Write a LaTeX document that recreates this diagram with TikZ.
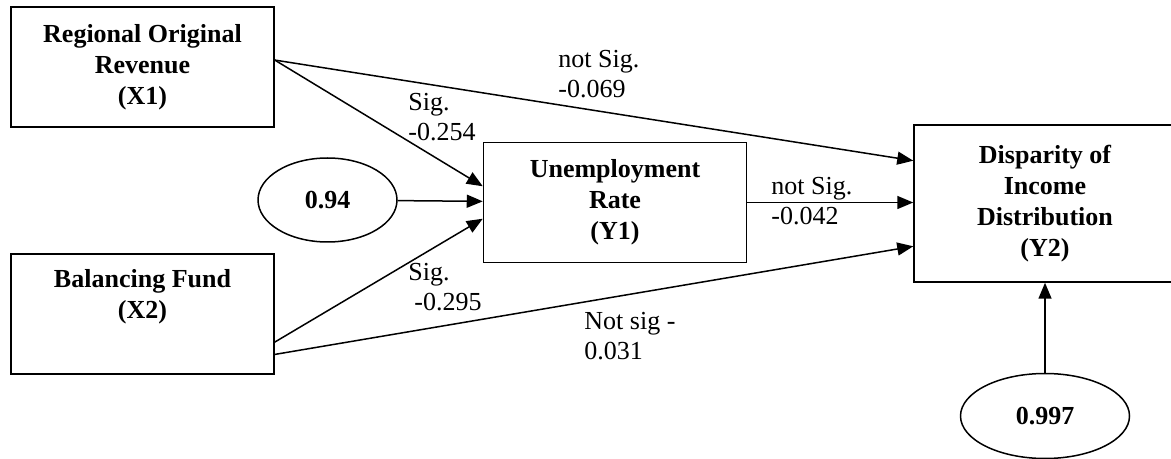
\documentclass[tikz,border=0pt]{standalone}
\usepackage{fontspec}
\setmainfont{Liberation Serif}
\usetikzlibrary{arrows.meta,shapes.geometric}

\begin{document}
\begin{tikzpicture}[
    x=0.5pt, y=-0.5pt,
    box/.style={draw, line width=0.75pt, minimum width=131.5pt, minimum height=60pt,
                font=\fontsize{13}{15.5}\selectfont\bfseries, align=center, inner sep=2pt},
    err/.style={draw, ellipse, line width=0.75pt, inner sep=0pt,
                font=\fontsize{13}{15.5}\selectfont\bfseries},
    lbl/.style={anchor=west, align=left, inner sep=0pt, font=\fontsize{13}{15}\selectfont},
    arr/.style={-{Triangle[length=8pt,width=6.5pt]}, line width=0.75pt}
  ]
    \useasboundingbox (0,0) rectangle (1171,459);

    % exogenous variables
    \node[box] (X1) at (142.5,67) {Regional Original\\Revenue\\(X1)};
    \node[box] (X2) at (142.5,314) {Balancing Fund\\(X2)\\\strut};

    % endogenous variables
    \node[box] (Y1) at (615,202.5) {Unemployment\\Rate\\(Y1)};
    \node[box, minimum width=131pt, minimum height=78.5pt] (Y2) at (1045,203.5)
        {Disparity of\\Income\\Distribution\\(Y2)};

    % residuals
    \node[err, minimum width=69.5pt, minimum height=42pt] (e1) at (327.5,200) {0.94};
    \node[err, minimum width=84.5pt, minimum height=42.5pt] (e2) at (1045,416) {0.997};

    % paths
    \draw[arr] (X1.3) -- (Y1.173);
    \draw[arr] (e1) -- (Y1);
    \draw[arr] (X2.-12) -- (Y1.187);
    \draw[arr] (X1.3) -- (Y2.162);
    \draw[arr] (Y1) -- (Y1 -| Y2.west);
    \draw[arr] (X2.-17) -- (Y2.198);
    \draw[arr] (e2) -- (Y2);

    % coefficients
    \node[lbl] (c1) at (558,74) {not Sig.\\-0.069};
    \node[lbl] (c2) at (408,117) {Sig.\\-0.254};
    \node[lbl] (c3) at (771,201) {not Sig.\\-0.042};
    \node[lbl] (c4) at (408,287) {Sig.\\\hspace*{3pt}-0.295};
    \node[lbl] (c5) at (584,336) {Not sig -\\0.031};
\end{tikzpicture}
\end{document}
